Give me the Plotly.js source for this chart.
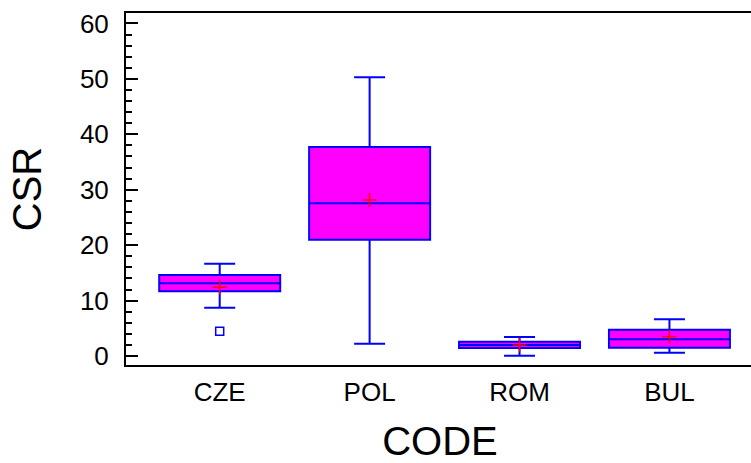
<!DOCTYPE html>
<html>
<head>
<meta charset="utf-8">
<script src="https://cdn.plot.ly/plotly-3.0.1.min.js"></script>
<style>
html,body{margin:0;padding:0;overflow:hidden;background:#fff;}
#chart{width:756px;height:463px;}
</style>
</head>
<body>
<div id="chart"></div>
<script>
var categories = ["CZE", "POL", "ROM", "BUL"];
var lowerWhisker = [8.72, 2.22, 0.05, 0.60];
var q1Values = [11.67, 20.99, 1.44, 1.50];
var medianValues = [13.12, 27.55, 1.98, 3.01];
var q3Values = [14.62, 37.7, 2.58, 4.75];
var upperWhisker = [16.65, 50.3, 3.43, 6.62];
var meanValues = [12.4, 28.15, 1.98, 3.48];
var outlierCategories = ["CZE"];
var outlierValues = [4.46];
var yTickValues = [0, 10, 20, 30, 40, 50, 60];

var traces = [
  {
    type: "box",
    x: categories,
    q1: q1Values,
    median: medianValues,
    q3: q3Values,
    lowerfence: lowerWhisker,
    upperfence: upperWhisker,
    width: 0.807,
    whiskerwidth: 0.256,
    fillcolor: "#ff00ff",
    line: {color: "#0000ff", width: 2},
    boxpoints: false,
    showlegend: false,
    hoverinfo: "skip"
  },
  {
    type: "scatter",
    mode: "markers",
    x: categories,
    y: meanValues,
    marker: {symbol: "cross-thin", size: 10, color: "#ff0000", line: {color: "#ff0000", width: 1.5}},
    showlegend: false,
    hoverinfo: "skip"
  },
  {
    type: "scatter",
    mode: "markers",
    x: outlierCategories,
    y: outlierValues,
    marker: {symbol: "square-open", size: 8, color: "#0000ff", line: {color: "#0000ff", width: 1.5}},
    showlegend: false,
    hoverinfo: "skip"
  }
];

var layout = {
  width: 756,
  height: 463,
  margin: {l: 126, r: 2, t: 13, b: 98},
  paper_bgcolor: "#ffffff",
  plot_bgcolor: "#ffffff",
  font: {family: "Liberation Sans, Arial, sans-serif", color: "#000000"},
  showlegend: false,
  xaxis: {
    type: "category",
    range: [-0.625, 3.564],
    showline: true,
    linecolor: "#000000",
    linewidth: 2,
    mirror: true,
    ticks: "",
    showgrid: false,
    zeroline: false,
    ticklabelstandoff: 3,
    tickfont: {size: 26, family: "Liberation Sans, Arial, sans-serif"},
    title: {text: "CODE", font: {size: 40, family: "Liberation Sans, Arial, sans-serif"}, standoff: 22}
  },
  yaxis: {
    range: [-1.62, 61.89],
    tickvals: yTickValues,
    showline: true,
    linecolor: "#000000",
    linewidth: 2,
    ticks: "inside",
    ticklen: 12,
    tickwidth: 2,
    tickcolor: "#000000",
    minor: {dtick: 2, ticks: "inside", ticklen: 6, tickwidth: 2, tickcolor: "#000000", showgrid: false},
    showgrid: false,
    zeroline: false,
    ticklabelstandoff: 10,
    tickfont: {size: 26, family: "Liberation Sans, Arial, sans-serif"},
    title: {text: "CSR", font: {size: 40, family: "Liberation Sans, Arial, sans-serif"}, standoff: 26}
  },
  yaxis2: {
    overlaying: "y",
    side: "right",
    range: [-1.62, 61.89],
    tickvals: yTickValues,
    ticks: "inside",
    ticklen: 2,
    tickwidth: 2,
    tickcolor: "#000000",
    showticklabels: false,
    showline: true,
    linecolor: "#000000",
    linewidth: 2,
    showgrid: false,
    zeroline: false
  }
};

traces.push({type: "scatter", x: [], y: [], yaxis: "y2", showlegend: false, hoverinfo: "skip"});

Plotly.newPlot("chart", traces, layout, {displayModeBar: false, staticPlot: true});
</script>
</body>
</html>
